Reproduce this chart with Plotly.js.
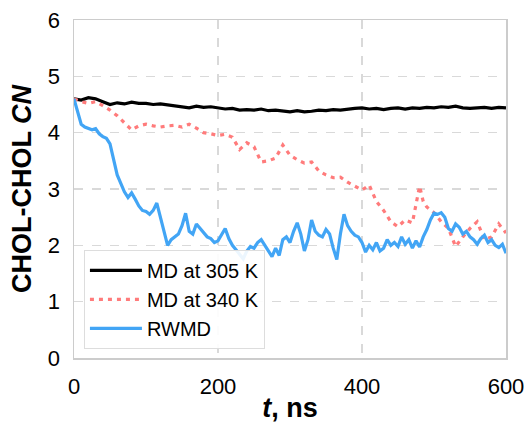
<!DOCTYPE html>
<html>
<head>
<meta charset="utf-8">
<script src="https://cdn.plot.ly/plotly-3.0.1.min.js"></script>
<style>html,body{margin:0;padding:0;background:#fff;}#chart{width:530px;height:423px;}</style>
</head>
<body>
<div id="chart"></div>
<script>
// MD at 305 K (t step 10 ns)
const tMD305 = [0,10,20,30,40,50,60,70,80,90,100,110,120,130,140,150,160,170,180,190,200,210,220,230,240,250,260,270,280,290,300,310,320,330,340,350,360,370,380,390,400,410,420,430,440,450,460,470,480,490,500,510,520,530,540,550,560,570,580,590,600];
const cnMD305 = [4.60,4.58,4.62,4.60,4.55,4.50,4.53,4.51,4.54,4.52,4.52,4.50,4.51,4.49,4.47,4.45,4.44,4.47,4.45,4.46,4.44,4.42,4.43,4.40,4.41,4.40,4.42,4.39,4.40,4.38,4.37,4.39,4.37,4.38,4.40,4.39,4.41,4.40,4.42,4.43,4.44,4.42,4.43,4.41,4.43,4.44,4.42,4.44,4.43,4.45,4.44,4.46,4.45,4.47,4.44,4.43,4.44,4.45,4.43,4.45,4.44];

// MD at 340 K
const tMD340 = [0,10,20,30,40,50,60,70,80,90,100,110,120,130,140,150,160,170,180,190,200,210,220,230,240,250,260,270,280,290,300,310,320,330,340,350,360,370,380,390,400,410,420,430,440,450,460,470,475,480,485,490,500,510,520,530,540,550,560,570,580,590,600];
const cnMD340 = [4.60,4.55,4.52,4.55,4.48,4.40,4.30,4.18,4.05,4.12,4.15,4.12,4.10,4.12,4.13,4.10,4.15,4.08,4.00,3.98,3.95,3.97,3.92,3.70,3.82,3.75,3.48,3.50,3.55,3.78,3.60,3.52,3.46,3.48,3.32,3.25,3.20,3.21,3.12,3.05,2.98,3.07,2.78,2.62,2.42,2.33,2.45,2.40,2.75,3.05,2.78,2.68,2.58,2.42,2.30,1.98,2.15,2.30,2.42,2.10,2.15,2.38,2.22];

// RWMD (t step 5 ns)
const tRWMD = [0,5,10,15,20,25,30,35,40,45,50,55,60,65,70,75,80,85,90,95,100,105,110,115,120,125,130,135,140,145,150,155,160,165,170,175,180,185,190,195,200,205,210,215,220,225,230,235,240,245,250,255,260,265,270,275,280,285,290,295,300,305,310,315,320,325,330,335,340,345,350,355,360,365,370,375,380,385,390,395,400,405,410,415,420,425,430,435,440,445,450,455,460,465,470,475,480,485,490,495,500,505,510,515,520,525,530,535,540,545,550,555,560,565,570,575,580,585,590,595,600];
const cnRWMD = [4.60,4.35,4.15,4.10,4.08,4.05,4.07,3.98,3.93,3.90,3.80,3.50,3.25,3.10,2.95,2.85,2.93,2.82,2.70,2.62,2.60,2.55,2.62,2.75,2.50,2.30,2.00,2.10,2.15,2.20,2.35,2.57,2.25,2.20,2.38,2.30,2.22,2.15,2.12,2.05,2.08,2.20,2.30,2.12,2.00,1.92,1.85,1.76,1.90,1.98,1.95,2.05,2.10,2.00,1.88,1.80,1.95,1.82,2.10,2.15,2.05,2.25,2.40,2.20,1.90,2.10,2.45,2.25,2.18,2.15,2.28,2.20,1.95,1.75,2.20,2.55,2.35,2.25,2.18,2.15,2.05,1.88,2.00,1.92,2.05,1.90,1.95,2.10,2.00,2.05,1.98,2.15,2.02,2.10,1.95,2.08,1.97,2.15,2.28,2.45,2.57,2.55,2.58,2.50,2.30,2.25,2.38,2.32,2.20,2.25,2.15,2.10,2.02,2.12,2.18,2.05,2.10,2.00,1.96,2.02,1.86];

const seriesNames = ['MD at 305 K','MD at 340 K','RWMD'];
const xTicks = [0,200,400,600];
const yTicks = [0,1,2,3,4,5,6];

const font = 'Liberation Sans, Arial, Helvetica, sans-serif';

const traces = [
  {x:tMD305, y:cnMD305, name:seriesNames[0], mode:'lines', line:{color:'#000000', width:3.2}},
  {x:tMD340, y:cnMD340, name:seriesNames[1], mode:'lines', line:{color:'#FF7B7B', width:3.2, dash:'4px,5px'}},
  {x:tRWMD, y:cnRWMD, name:seriesNames[2], mode:'lines', line:{color:'#42A5F5', width:3.2}}
];

const grid = {showgrid:true, gridcolor:'#d9d9d9', griddash:'dash', gridwidth:1.2};

const layout = {
  width:530, height:423,
  margin:{l:74, r:24, t:20, b:65},
  paper_bgcolor:'#ffffff', plot_bgcolor:'#ffffff',
  font:{family:font, color:'#000'},
  showlegend:true,
  legend:{x:0.023, y:0.027, xanchor:'left', yanchor:'bottom', bgcolor:'rgba(255,255,255,0.9)',
          bordercolor:'#dddddd', borderwidth:1, font:{size:20, family:font}, itemwidth:52, tracegroupgap:0},
  xaxis:Object.assign({range:[0,600], tickvals:xTicks, ticks:'', showline:true, mirror:true, linecolor:'#cccccc', linewidth:1.5,
          zeroline:false, tickfont:{size:22}, ticklabelstandoff:8,
          title:{text:'<b><i>t</i>, ns</b>', font:{size:27}, standoff:8}}, grid),
  yaxis:Object.assign({range:[0,6], tickvals:yTicks, ticks:'', showline:true, mirror:true, linecolor:'#cccccc', linewidth:1.5,
          zeroline:false, tickfont:{size:22}, ticklabelstandoff:8,
          title:{text:'<b>CHOL-CHOL <i>CN</i></b>', font:{size:27}, standoff:8}}, grid)
};

Plotly.newPlot('chart', traces, layout, {displayModeBar:false, staticPlot:true});
</script>
</body>
</html>
